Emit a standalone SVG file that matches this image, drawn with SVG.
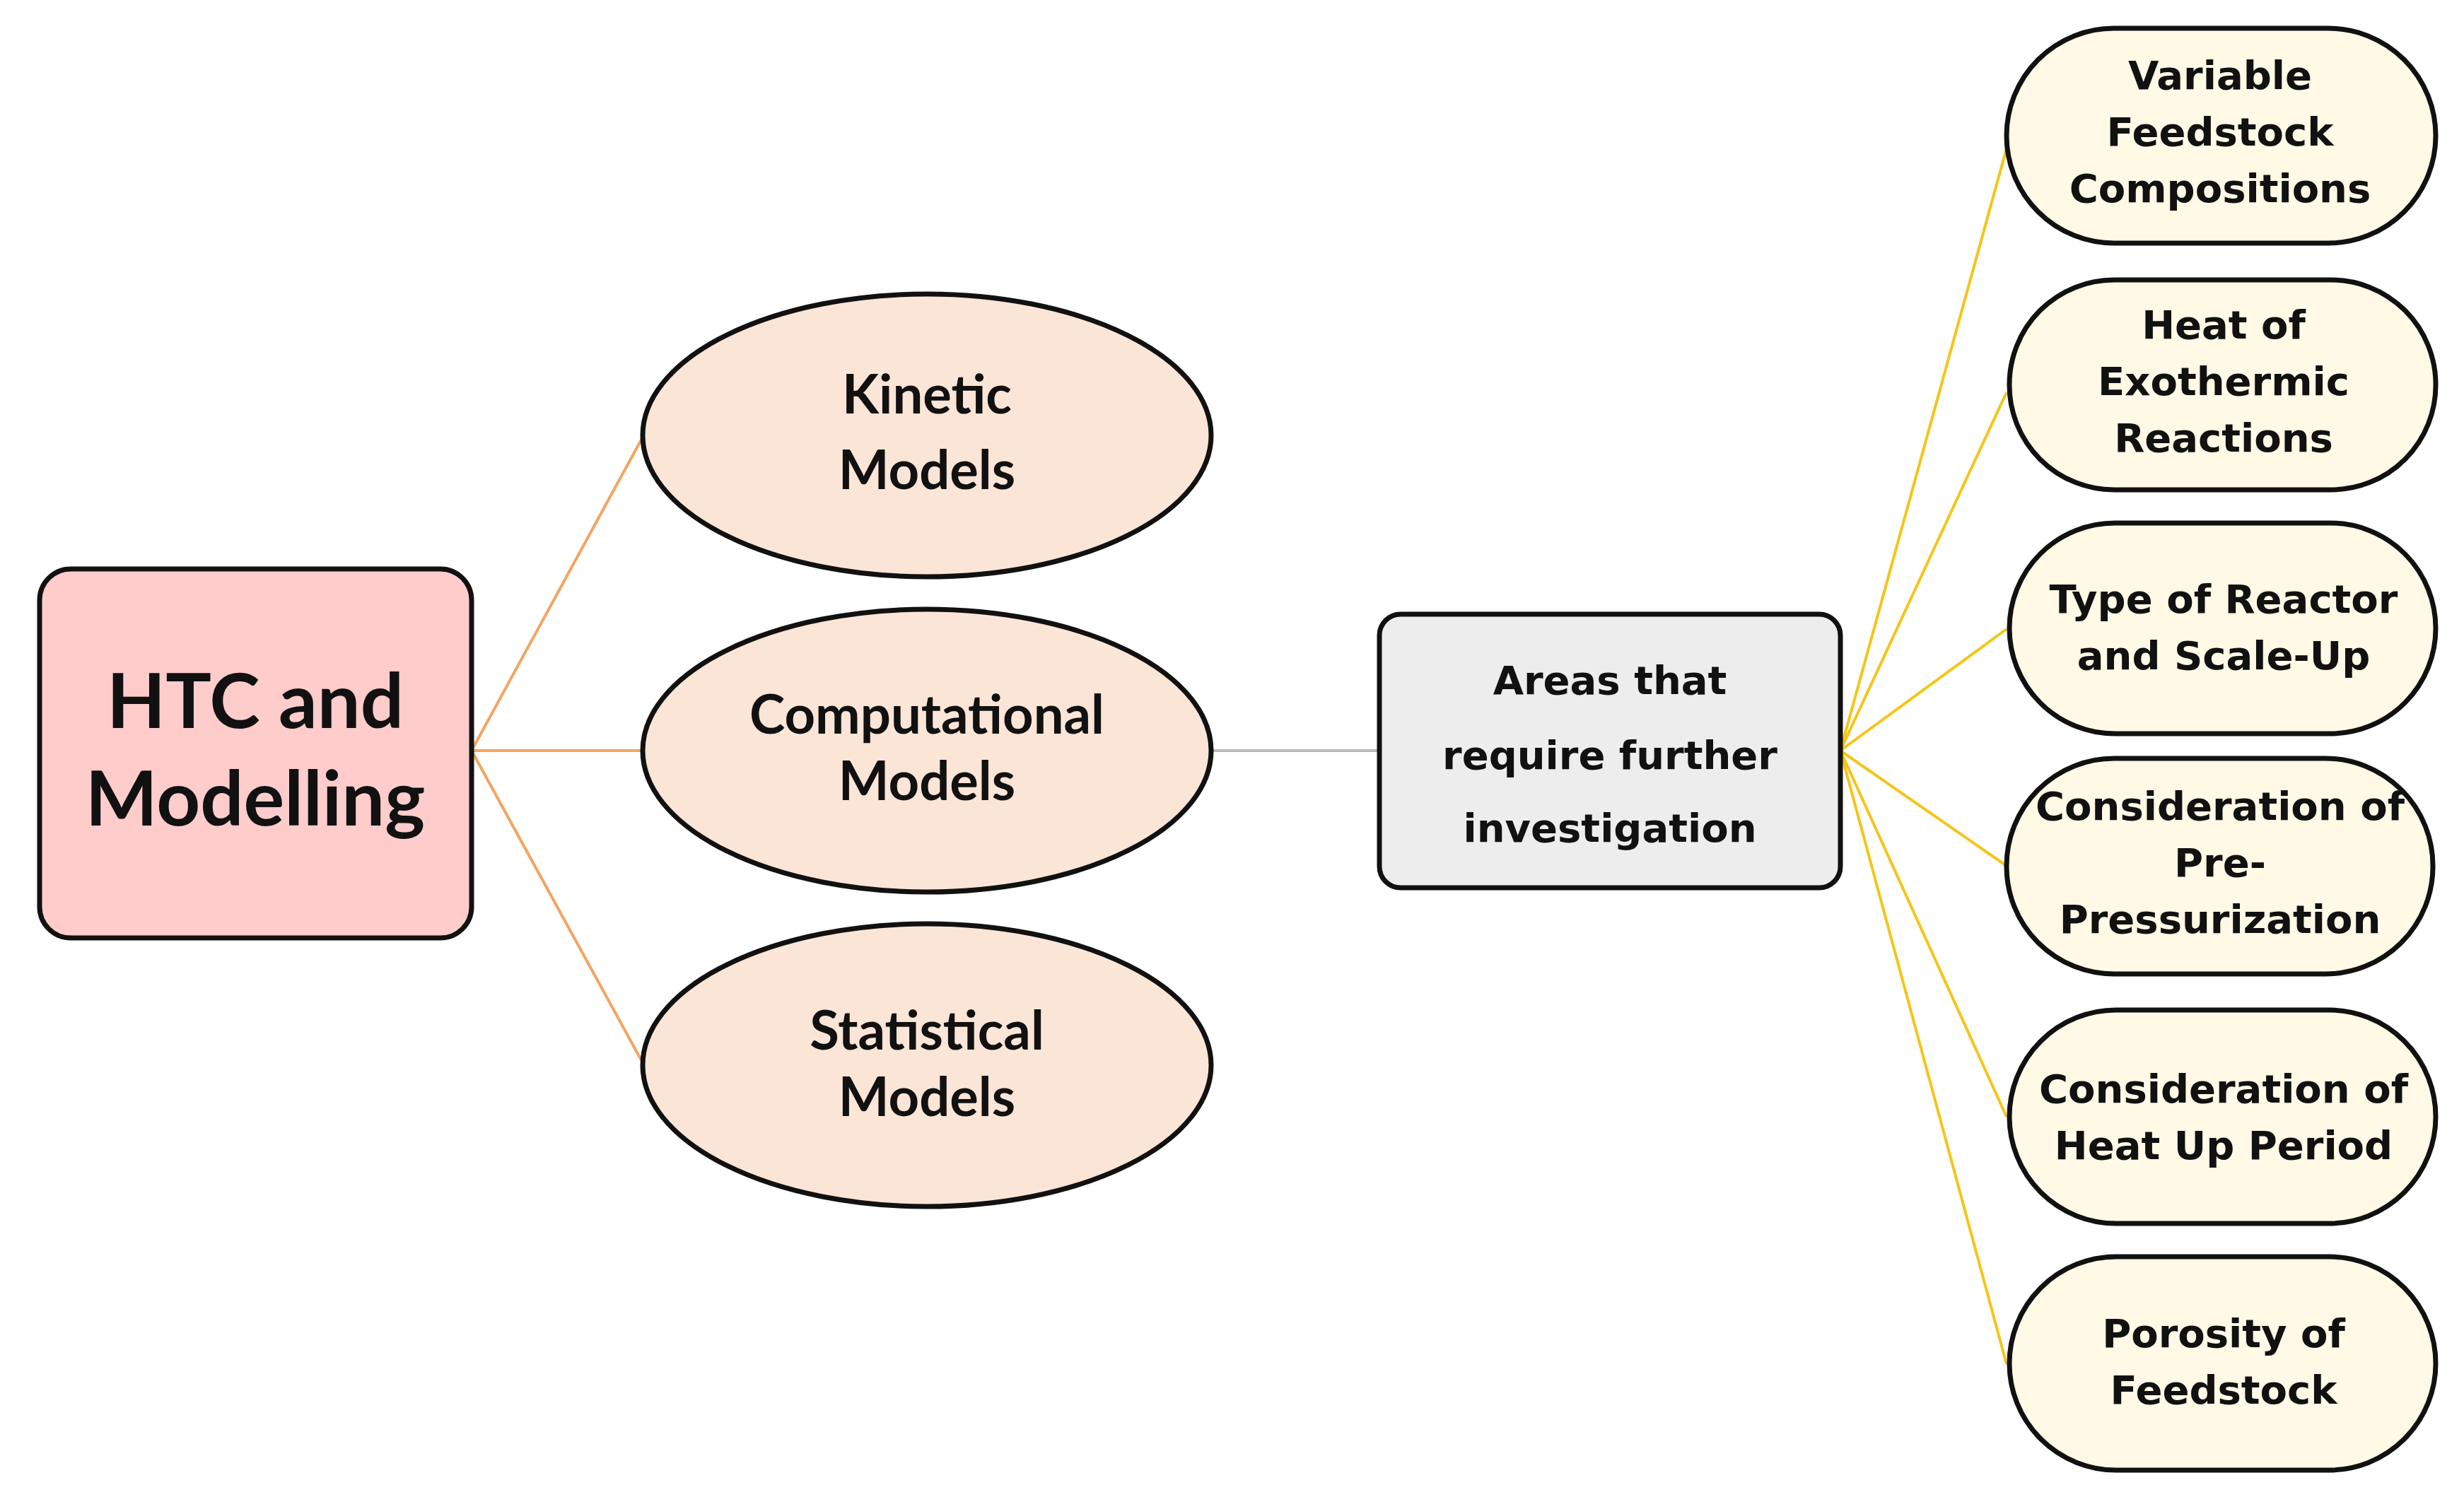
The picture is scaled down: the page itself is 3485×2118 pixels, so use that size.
<svg xmlns="http://www.w3.org/2000/svg" width="3485" height="2118" viewBox="0 0 3485 2118">
<style>
.n{stroke:#111;stroke-width:7}
.c{font-family:Lato,"Liberation Sans",sans-serif;font-weight:bold;fill:#111;text-anchor:middle}
.v{font-family:"DejaVu Sans","Noto Sans",sans-serif;font-weight:bold;fill:#111;text-anchor:middle;font-size:56px}
.o{stroke:#F4A460;stroke-width:4;fill:none}
.y{stroke:#F5C518;stroke-width:4;fill:none}
</style>
<rect width="3485" height="2118" fill="#fff"/>
<g id="connectors">
<path class="o" d="M667 1062L907 622M667 1062H907M667 1062L907 1500"/>
<path d="M1716 1062H1951" stroke="#bbb" stroke-width="4"/>
<path class="y" d="M2603 1062L2838 210M2603 1062L2838 555M2603 1062L2838 890M2603 1062L2838 1225M2603 1062L2838 1580M2603 1062L2838 1930"/>
</g>
<g id="htc"><rect class="n" x="56" y="805" width="611" height="522" rx="44" fill="#FFCCCC"/>
<text class="c" font-size="108" x="361" y="1030">HTC and</text><text class="c" font-size="108" x="361" y="1168">Modelling</text></g>
<g id="kinetic"><ellipse class="n" cx="1311" cy="616" rx="402" ry="200" fill="#FBE5D6"/>
<text class="c" font-size="76" x="1311" y="585">Kinetic</text><text class="c" font-size="76" x="1311" y="692">Models</text></g>
<g id="computational"><ellipse class="n" cx="1311" cy="1062" rx="402" ry="200" fill="#FBE5D6"/>
<text class="c" font-size="76" x="1311" y="1038">Computational</text><text class="c" font-size="76" x="1311" y="1132">Models</text></g>
<g id="statistical"><ellipse class="n" cx="1311" cy="1507" rx="402" ry="200" fill="#FBE5D6"/>
<text class="c" font-size="76" x="1311" y="1485">Statistical</text><text class="c" font-size="76" x="1311" y="1579">Models</text></g>
<g id="areas"><rect class="n" x="1951" y="869" width="652" height="387" rx="30" fill="#EDEDED"/>
<text class="v" font-size="76" x="2277" y="982">Areas that</text><text class="v" font-size="76" x="2277" y="1088">require further</text><text class="v" font-size="76" x="2277" y="1191">investigation</text></g>
<g id="p1"><rect class="n" x="2838" y="40" width="607" height="304" rx="152" fill="#FFF9E6"/>
<text class="v" x="3140" y="126">Variable</text><text class="v" x="3140" y="206">Feedstock</text><text class="v" x="3140" y="286">Compositions</text></g>
<g id="p2"><rect class="n" x="2842" y="396" width="603" height="297" rx="148" fill="#FFF9E6"/>
<text class="v" x="3145" y="479">Heat of</text><text class="v" x="3145" y="559">Exothermic</text><text class="v" x="3145" y="639">Reactions</text></g>
<g id="p3"><rect class="n" x="2842" y="740" width="603" height="298" rx="149" fill="#FFF9E6"/>
<text class="v" x="3145" y="867">Type of Reactor</text><text class="v" x="3145" y="947">and Scale-Up</text></g>
<g id="p4"><rect class="n" x="2838" y="1073" width="603" height="305" rx="152" fill="#FFF9E6"/>
<text class="v" x="3140" y="1160">Consideration of</text><text class="v" x="3140" y="1240">Pre-</text><text class="v" x="3140" y="1320">Pressurization</text></g>
<g id="p5"><rect class="n" x="2842" y="1429" width="603" height="302" rx="151" fill="#FFF9E6"/>
<text class="v" x="3145" y="1560">Consideration of</text><text class="v" x="3145" y="1640">Heat Up Period</text></g>
<g id="p6"><rect class="n" x="2842" y="1778" width="603" height="302" rx="151" fill="#FFF9E6"/>
<text class="v" x="3145" y="1906">Porosity of</text><text class="v" x="3145" y="1986">Feedstock</text></g>
</svg>
